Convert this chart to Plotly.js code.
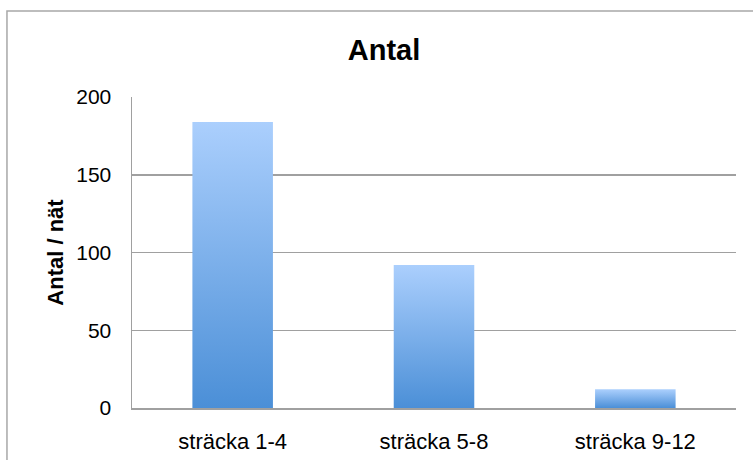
<!DOCTYPE html>
<html>
<head>
<meta charset="utf-8">
<script src="https://cdn.plot.ly/plotly-3.0.1.min.js"></script>
<style>
  html, body { margin: 0; padding: 0; background: #ffffff; }
  #chart { width: 753px; height: 460px; }
</style>
</head>
<body>
<div id="chart"></div>
<script>
// Catch per sträcka
const categories = ['sträcka 1-4', 'sträcka 5-8', 'sträcka 9-12'];
const antal = [184, 92, 12];
const yTicks = [0, 50, 100, 150, 200];

const font = 'Liberation Sans, Arial, sans-serif';

const trace = {
  type: 'bar',
  x: categories,
  y: antal,
  marker: { color: '#7aaee8', line: { width: 0 } },
  hoverinfo: 'x+y'
};

const layout = {
  width: 753,
  height: 460,
  margin: { l: 132, r: 17, t: 97, b: 52 },
  paper_bgcolor: '#ffffff',
  plot_bgcolor: '#ffffff',
  showlegend: false,
  bargap: 0.6,
  title: {
    text: '<b>Antal</b>',
    font: { family: font, size: 29, color: '#000000' },
    x: 0.51, xanchor: 'center',
    y: 0.891, yanchor: 'middle'
  },
  xaxis: {
    type: 'category',
    showgrid: false,
    showline: true,
    linecolor: '#a0a0a0',
    linewidth: 1.5,
    ticks: 'outside',
    ticklen: 13,
    tickcolor: 'rgba(0,0,0,0)',
    tickfont: { family: font, size: 22, color: '#000000' },
    fixedrange: true
  },
  yaxis: {
    range: [0, 200],
    tickvals: yTicks,
    showgrid: true,
    gridcolor: '#a0a0a0',
    gridwidth: 1.5,
    zeroline: false,
    showline: true,
    linecolor: '#a0a0a0',
    linewidth: 1.5,
    ticks: 'outside',
    ticklen: 15,
    tickcolor: 'rgba(0,0,0,0)',
    tickfont: { family: font, size: 21, color: '#000000' },
    title: {
      text: '<b>Antal / nät</b>',
      font: { family: font, size: 22, color: '#000000' },
      standoff: 6
    },
    fixedrange: true
  },
  shapes: [{
    type: 'rect',
    xref: 'paper', yref: 'paper',
    x0: -0.207, x1: 1.5,
    y0: -1, y1: 1.2765,
    line: { color: '#a8a8a8', width: 1.5 },
    fillcolor: 'rgba(0,0,0,0)',
    layer: 'below'
  }]
};

// Vertical gradient fill for the bars (light at top, deeper blue at base)
function applyGradient(gd) {
  const svg = gd.querySelector('svg.main-svg');
  if (!svg) return;
  let defs = svg.querySelector('defs');
  if (!defs) {
    defs = document.createElementNS('http://www.w3.org/2000/svg', 'defs');
    svg.insertBefore(defs, svg.firstChild);
  }
  if (!svg.querySelector('#barGrad')) {
    const g = document.createElementNS('http://www.w3.org/2000/svg', 'linearGradient');
    g.setAttribute('id', 'barGrad');
    g.setAttribute('x1', '0'); g.setAttribute('y1', '0');
    g.setAttribute('x2', '0'); g.setAttribute('y2', '1');
    [['0', '#abcffd'], ['1', '#4b8fd7']].forEach(([o, c]) => {
      const s = document.createElementNS('http://www.w3.org/2000/svg', 'stop');
      s.setAttribute('offset', o);
      s.setAttribute('stop-color', c);
      g.appendChild(s);
    });
    defs.appendChild(g);
  }
  gd.querySelectorAll('.bars .point path').forEach(p => {
    p.style.fill = 'url(#barGrad)';
  });
}

const gd = document.getElementById('chart');
Plotly.newPlot(gd, [trace], layout, { displayModeBar: false, staticPlot: true }).then(() => {
  applyGradient(gd);
  gd.on('plotly_afterplot', () => applyGradient(gd));
});
</script>
</body>
</html>
